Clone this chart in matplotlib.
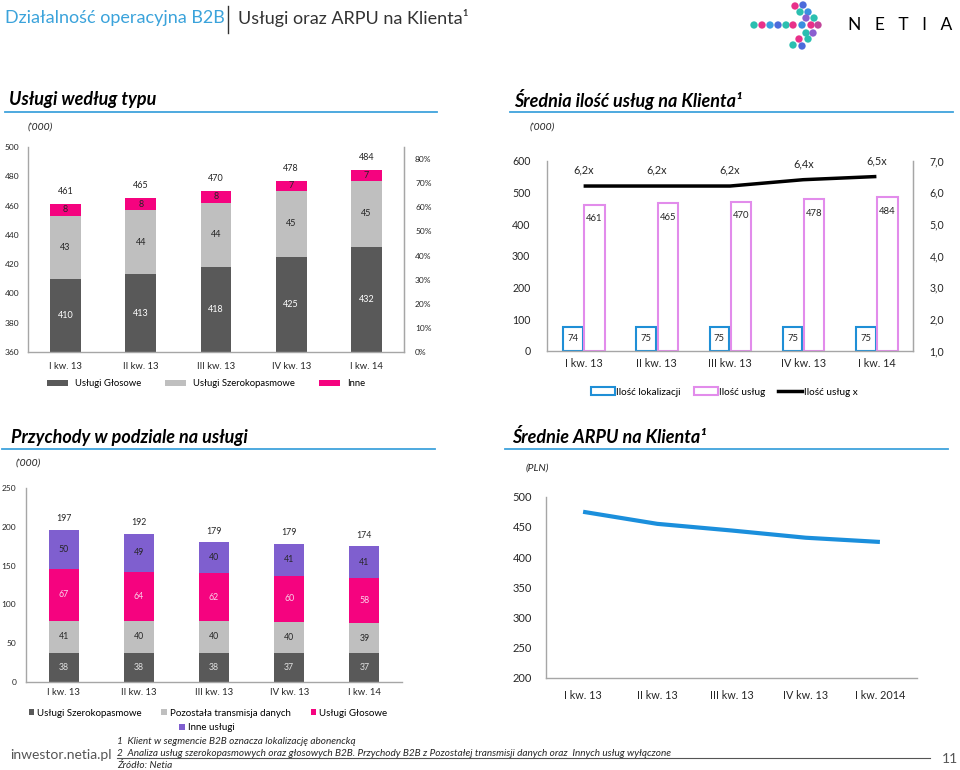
import matplotlib
matplotlib.use("Agg")
import matplotlib.pyplot as plt
from matplotlib.patches import Patch
from matplotlib.lines import Line2D
from matplotlib.ticker import FuncFormatter, MultipleLocator
import numpy as np

plt.rcParams['font.family'] = ['Lato', 'DejaVu Sans']

# ---------------- data ----------------
quarters = ["I kw. 13", "II kw. 13", "III kw. 13", "IV kw. 13", "I kw. 14"]
quarters_arpu = ["I kw. 13", "II kw. 13", "III kw. 13", "IV kw. 13", "I kw. 2014"]

# Usługi według typu ('000)
svc_voice = [410, 413, 418, 425, 432]
svc_broadband = [43, 44, 44, 45, 45]
svc_other = [8, 8, 8, 7, 7]
svc_total = [461, 465, 470, 478, 484]

# Średnia ilość usług na Klienta
locations = [74, 75, 75, 75, 75]
services = [461, 465, 470, 478, 484]
services_ratio = [6.2, 6.2, 6.2, 6.4, 6.5]

# Przychody w podziale na usługi
rev_broadband = [38, 38, 38, 37, 37]
rev_data = [41, 40, 40, 40, 39]
rev_voice = [67, 64, 62, 60, 58]
rev_other = [50, 49, 40, 41, 41]
rev_total = [197, 192, 179, 179, 174]

# Średnie ARPU na Klienta (PLN)
arpu = [475, 455, 444, 432, 425]

# ---------------- helpers ----------------
W, H = 960, 770
fig = plt.figure(figsize=(W / 100, H / 100), dpi=100)


def rect(x0, y0, x1, y1):
    return [x0 / W, 1 - y1 / H, (x1 - x0) / W, (y1 - y0) / H]


def fx(x):
    return x / W


def fy(y):
    return 1 - y / H


def hline(x0, x1, y, color, lw):
    fig.add_artist(Line2D([fx(x0), fx(x1)], [fy(y), fy(y)],
                          transform=fig.transFigure, color=color, lw=lw))


AX_GRAY = '#A6A6A6'
TXT = '#262626'
BLUE = '#3FA2DC'
DARK = '#595959'
LIGHT = '#BFBFBF'
PINK = '#F5037F'
PURPLE = '#7F5FCF'


def style_axes(ax, right=False):
    ax.spines['top'].set_visible(False)
    ax.spines['right'].set_visible(right)
    for s in ['left', 'bottom', 'right']:
        ax.spines[s].set_color(AX_GRAY)
        ax.spines[s].set_linewidth(1.0)
    ax.tick_params(length=0, colors=TXT)


x = np.arange(len(quarters))

# ---------------- header ----------------
fig.text(fx(5), fy(18), "Działalność operacyjna B2B", color='#3BA3DB',
         fontsize=13, fontweight='normal', va='center', ha='left')
fig.add_artist(Line2D([fx(228), fx(228)], [fy(6), fy(33)],
                      transform=fig.transFigure, color='#333333', lw=1.0))
fig.text(fx(238), fy(18), "Usługi oraz ARPU na Klienta¹", color='#333333',
         fontsize=13, fontweight='normal', va='center', ha='left')

# logo dots
dots_x = [795, 803, 800, 808, 806, 814, 754, 762, 770, 778, 786, 793, 802, 811, 818,
          806, 813, 799, 808, 793, 802]
dots_y = [6, 5, 12, 12, 18, 18, 25, 25, 25, 25, 25, 25, 25, 25, 25,
          33, 33, 39, 39, 45, 46]
dots_c = ['#E8318A', '#4C6BDB', '#2BBFB0', '#3A8FE0', '#8A5FD0', '#2BBFB0',
          '#2BBFB0', '#E8318A', '#3A9FE0', '#4C6BDB', '#2BBFB0', '#E8318A', '#3A8FE0',
          '#E8318A', '#C2459A', '#2BBFB0', '#8A5FD0', '#E8318A', '#2BBFB0',
          '#2BBFB0', '#4C6BDB']
axl = fig.add_axes(rect(745, 0, 825, 52))
axl.scatter(dots_x, dots_y, s=28, c=dots_c, linewidths=0)
axl.set_xlim(745, 825)
axl.set_ylim(52, 0)
axl.axis('off')
fig.text(fx(848), fy(25), "N   E   T   I   A", fontsize=12.5, color='black',
         va='center', ha='left')


# section titles
def section(title, x0, y, lx0, lx1, sub, sx, sy):
    fig.text(fx(x0), fy(y), title, fontsize=13, fontweight='bold', style='italic',
             color='black', va='center', ha='left')
    hline(lx0, lx1, y + 12, BLUE, 1.3)
    fig.text(fx(sx), fy(sy), sub, fontsize=7.5, style='italic', color=TXT,
             va='center', ha='left')


section("Usługi według typu", 9, 100, 5, 437, "('000)", 28, 127)
section("Średnia ilość usług na Klienta¹", 514, 100, 510, 953, "('000)", 530, 127)
section("Przychody w podziale na usługi", 11, 437, 2, 435, "('000)", 16, 463)
section("Średnie ARPU na Klienta¹", 512, 437, 505, 948, "(PLN)", 526, 468)

# ---------------- chart 1: Usługi według typu ----------------
ax1 = fig.add_axes(rect(28, 147, 404, 352))
bw = 0.41
voice = np.array(svc_voice)
broad = np.array(svc_broadband)
other = np.array(svc_other)
ax1.bar(x, voice, bw, color=DARK, label="Usługi Głosowe", zorder=2)
ax1.bar(x, broad, bw, bottom=voice, color=LIGHT, label="Usługi Szerokopasmowe", zorder=2)
ax1.bar(x, other, bw, bottom=voice + broad, color=PINK, label="Inne", zorder=2)
ax1.set_ylim(360, 500)
ax1.set_xlim(-0.5, 4.5)
ax1.yaxis.set_major_locator(MultipleLocator(20))
ax1.set_xticks(x)
ax1.set_xticklabels(quarters, fontsize=6.8)
ax1.tick_params(axis='y', labelsize=6, pad=6)
ax1.tick_params(axis='x', pad=7)
style_axes(ax1, right=True)
for i in range(len(x)):
    ax1.text(x[i], (360 + voice[i]) / 2, str(voice[i]), ha='center', va='center',
             fontsize=6.5, color='white')
    ax1.text(x[i], voice[i] + broad[i] / 2, str(broad[i]), ha='center', va='center',
             fontsize=6.5, color=TXT)
    ax1.text(x[i], voice[i] + broad[i] + other[i] / 2, str(other[i]), ha='center',
             va='center', fontsize=6.5, color=TXT)
    ax1.annotate(str(svc_total[i]), (x[i], voice[i] + broad[i] + other[i]),
                 xytext=(0, 9), textcoords='offset points', ha='center', va='center',
                 fontsize=6.5, color=TXT)
ax1r = ax1.twinx()
ax1r.set_ylim(0, 0.85)
ax1r.set_yticks(np.arange(0, 0.81, 0.1))
ax1r.yaxis.set_major_formatter(FuncFormatter(lambda v, p: f"{v * 100:.0f}%"))
ax1r.tick_params(axis='y', labelsize=6, pad=8, length=0, colors=TXT)
for s in ['top', 'left', 'bottom']:
    ax1r.spines[s].set_visible(False)
ax1r.spines['right'].set_color(AX_GRAY)
ax1.legend(loc='center', bbox_to_anchor=(fx(206), fy(384)),
           bbox_transform=fig.transFigure, ncol=3, frameon=False,
           fontsize=6.8, handlelength=2.2, handleheight=0.55,
           handletextpad=0.7, columnspacing=2.6)

# ---------------- chart 2: Średnia ilość usług ----------------
ax2 = fig.add_axes(rect(547, 160.7, 913, 350.7))
ax2.bar(x - 0.145, locations, 0.27, facecolor='white', edgecolor='#1F8FD6',
        linewidth=1.5, label="Ilość lokalizacji", zorder=2)
ax2.bar(x + 0.15, services, 0.28, facecolor='white', edgecolor='#E28CEB',
        linewidth=1.5, label="Ilość usług", zorder=2)
ax2.set_ylim(0, 600)
ax2.set_xlim(-0.5, 4.5)
ax2.yaxis.set_major_locator(MultipleLocator(100))
ax2.set_xticks(x)
ax2.set_xticklabels(quarters, fontsize=7.8)
ax2.tick_params(axis='y', labelsize=7.6, pad=12)
ax2.tick_params(axis='x', pad=5)
style_axes(ax2, right=True)
for i in range(len(x)):
    ax2.text(x[i] - 0.145, locations[i] / 2, str(locations[i]), ha='center', va='center',
             fontsize=6.8, color=TXT)
    ax2.annotate(str(services[i]), (x[i] + 0.15, services[i]), xytext=(0, -10),
                 textcoords='offset points', ha='center', va='center',
                 fontsize=6.8, color=TXT)
ax2r = ax2.twinx()
ax2r.plot(x, services_ratio, color='black', lw=2.5, solid_capstyle='butt',
          label="Ilość usług x")
ax2r.set_ylim(1, 7)
ax2r.yaxis.set_major_locator(MultipleLocator(1))
ax2r.yaxis.set_major_formatter(FuncFormatter(lambda v, p: f"{v:.1f}".replace('.', ',')))
ax2r.tick_params(axis='y', labelsize=7.6, pad=12, length=0, colors=TXT)
for s in ['top', 'left', 'bottom']:
    ax2r.spines[s].set_visible(False)
ax2r.spines['right'].set_color(AX_GRAY)
for i in range(len(x)):
    ax2r.annotate(f"{services_ratio[i]:.1f}".replace('.', ',') + "x",
                  (x[i], services_ratio[i]), xytext=(0, 11.5), textcoords='offset points',
                  ha='center', va='center', fontsize=7.8, color=TXT)
h2 = [Patch(facecolor='white', edgecolor='#1F8FD6', linewidth=1.5),
      Patch(facecolor='white', edgecolor='#E28CEB', linewidth=1.5),
      Line2D([0], [0], color='black', lw=2.5)]
ax2r.legend(h2, ["Ilość lokalizacji", "Ilość usług", "Ilość usług x"], loc='center',
            bbox_to_anchor=(fx(724), fy(392)), bbox_transform=fig.transFigure,
            ncol=3, frameon=False, fontsize=7.2, handlelength=2.4, handleheight=0.8,
            handletextpad=0.15, columnspacing=1.3)

# ---------------- chart 3: Przychody ----------------
ax3 = fig.add_axes(rect(26, 488, 402, 682))
bw3 = 0.40
rb = np.array(rev_broadband)
rd = np.array(rev_data)
rv = np.array(rev_voice)
ro = np.array(rev_other)
b1 = ax3.bar(x, rb, bw3, color=DARK, label="Usługi Szerokopasmowe", zorder=2)
b2 = ax3.bar(x, rd, bw3, bottom=rb, color=LIGHT, label="Pozostała transmisja danych", zorder=2)
b3 = ax3.bar(x, rv, bw3, bottom=rb + rd, color=PINK, label="Usługi Głosowe", zorder=2)
b4 = ax3.bar(x, ro, bw3, bottom=rb + rd + rv, color=PURPLE, label="Inne usługi", zorder=2)
ax3.set_ylim(0, 250)
ax3.set_xlim(-0.5, 4.5)
ax3.yaxis.set_major_locator(MultipleLocator(50))
ax3.set_xticks(x)
ax3.set_xticklabels(quarters, fontsize=6.8)
ax3.tick_params(axis='y', labelsize=6, pad=7)
ax3.tick_params(axis='x', pad=4)
style_axes(ax3)
for i in range(len(x)):
    ax3.text(x[i], rb[i] / 2, str(rb[i]), ha='center', va='center', fontsize=6.3,
             color='#E0E0E0')
    ax3.text(x[i], rb[i] + rd[i] / 2, str(rd[i]), ha='center', va='center', fontsize=6.3,
             color=TXT)
    ax3.text(x[i], rb[i] + rd[i] + rv[i] / 2, str(rv[i]), ha='center', va='center',
             fontsize=6.3, color='#FBD3EA')
    ax3.text(x[i], rb[i] + rd[i] + rv[i] + ro[i] / 2, str(ro[i]), ha='center',
             va='center', fontsize=6.3, color=TXT)
    ax3.annotate(str(rev_total[i]), (x[i], rb[i] + rd[i] + rv[i] + ro[i]),
                 xytext=(0, 8), textcoords='offset points', ha='center', va='center',
                 fontsize=6.3, color=TXT)
leg3a = ax3.legend([b1, b2, b3], ["Usługi Szerokopasmowe", "Pozostała transmisja danych",
                                  "Usługi Głosowe"],
                   loc='center', bbox_to_anchor=(fx(208), fy(713)),
                   bbox_transform=fig.transFigure, ncol=3, frameon=False, fontsize=7,
                   handlelength=0.55, handleheight=0.55, handletextpad=0.35,
                   columnspacing=2.0)
ax3.add_artist(leg3a)
ax3.legend([b4], ["Inne usługi"], loc='center', bbox_to_anchor=(fx(207), fy(728)),
           bbox_transform=fig.transFigure, frameon=False, fontsize=7,
           handlelength=0.55, handleheight=0.55, handletextpad=0.35)

# ---------------- chart 4: ARPU ----------------
ax4 = fig.add_axes(rect(546, 496.7, 917, 677.7))
ax4.plot(x, arpu, color='#1B8FDC', lw=3, solid_capstyle='butt')
ax4.set_ylim(200, 500)
ax4.set_xlim(-0.5, 4.5)
ax4.yaxis.set_major_locator(MultipleLocator(50))
ax4.set_xticks(x)
ax4.set_xticklabels(quarters_arpu, fontsize=7.8)
ax4.tick_params(axis='y', labelsize=8, pad=10)
ax4.tick_params(axis='x', pad=9)
style_axes(ax4)

# ---------------- footer ----------------
fig.text(fx(10), fy(755), "inwestor.netia.pl", fontsize=10, fontweight='normal',
         color='#555555', va='center', ha='left')
fig.text(fx(117), fy(741), "1  Klient w segmencie B2B oznacza lokalizację abonencką",
         fontsize=7.2, style='italic', color=TXT, va='center', ha='left')
fig.text(fx(117), fy(753),
         "2  Analiza usług szerokopasmowych oraz głosowych B2B. Przychody B2B z Pozostałej "
         "transmisji danych oraz  Innych usług wyłączone",
         fontsize=7.2, style='italic', color=TXT, va='center', ha='left')
hline(117, 930, 758, '#555555', 0.8)
fig.text(fx(117), fy(765), "Źródło: Netia", fontsize=7.2, style='italic', color=TXT,
         va='center', ha='left')
fig.text(fx(958), fy(759), "11", fontsize=10, color='#555555', va='center', ha='right')

fig.savefig("out.png", dpi=100)
